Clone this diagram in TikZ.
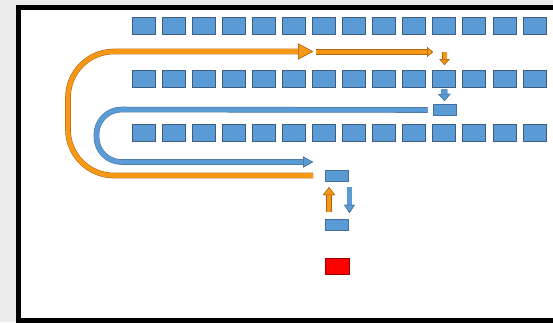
\documentclass[tikz,border=0pt]{standalone}
\usetikzlibrary{arrows.meta}
\definecolor{boxblue}{RGB}{91,155,213}
\definecolor{boxedge}{RGB}{62,92,128}
\definecolor{flowor}{RGB}{246,152,20}
\definecolor{oredge}{RGB}{170,100,20}
\definecolor{bledge}{RGB}{70,110,160}
\definecolor{pagegray}{RGB}{236,236,236}
\begin{document}
\begin{tikzpicture}[x=1pt, y=-1pt,
  box/.style = {draw=boxedge, fill=boxblue, line width=0.9pt, inner sep=0pt, minimum width=23pt, minimum height=17pt},
  slot/.style = {draw=bledge, fill=boxblue, line width=0.6pt, inner sep=0pt, minimum width=23pt, minimum height=11.5pt},
  redbox/.style = {draw=red!60!black, fill=red, line width=0.6pt, inner sep=0pt, minimum width=24pt, minimum height=16pt},
  oflow/.style = {draw=flowor, line width=4.6pt, preaction={draw=oredge, line width=5.6pt}},
  bflow/.style = {draw=boxblue, line width=4.6pt, preaction={draw=bledge, line width=5.6pt}},
  ohead/.style 2 args = {-{Triangle[width=#1, length=#2, line width=0.5pt, fill=flowor, color=oredge]}},
  bhead/.style 2 args = {-{Triangle[width=#1, length=#2, line width=0.5pt, fill=boxblue, color=bledge]}}]
\clip (0,0) rectangle (553,322);
\fill[pagegray] (0,0) rectangle (553,322);
\draw[line width=5pt, fill=white] (18.5,7.5) rectangle (580,320.5);

% three rows of storage places
\foreach \r/\y in {1/25.5, 2/79, 3/132.5}
  \foreach \c in {1,...,14}
    \node[box] (s\r-\c) at ({143.5+30.08*(\c-1)}, \y) {};

\node[slot] (buf) at (444.5,110) {};
\node[slot] (pick) at (337,176) {};
\node[slot] (place) at (337,225) {};
\node[redbox] (fault) at (337,266) {};

\coordinate (oin) at (313,175.5);
\coordinate (otip) at (313,51.5);
\coordinate (o2a) at (316,52);
\coordinate (o2b) at (433,52);
\coordinate (o3a) at (444.5,52);
\coordinate (btip) at (313,162);

% orange round trip
\draw[oflow, rounded corners=46pt, ohead={16pt}{15pt}] (oin) -- (68,175.5) -- (68,51.5) -- (otip);
\draw[oflow, ohead={10pt}{6pt}] (o2a) -- (o2b);
\draw[oflow, line width=4pt, preaction={draw=oredge, line width=4.8pt}, ohead={10pt}{6pt}] (o3a) -- ++(0,13);

% blue return path
\draw[bflow, shorten <=5pt, rounded corners=25pt, bhead={11pt}{10pt}] (buf.west) -- (96.5,109.5) -- (96.5,162) -- (btip);
\draw[bflow, line width=5.4pt, preaction={draw=bledge, line width=6.2pt}, bhead={12pt}{7pt}, shorten <=1.5pt, shorten >=3pt] (s2-11.south) -- (buf.north);

\draw[oflow, ohead={12pt}{8pt}, shorten <=7pt, shorten >=5pt] ([xshift=-8pt]place.north) -- ([xshift=-8pt]pick.south);
\draw[bflow, line width=4.4pt, preaction={draw=bledge, line width=5.2pt}, bhead={10pt}{8pt}, shorten <=5pt, shorten >=6pt] ([xshift=12.5pt]pick.south) -- ([xshift=12.5pt]place.north);
\end{tikzpicture}
\end{document}
